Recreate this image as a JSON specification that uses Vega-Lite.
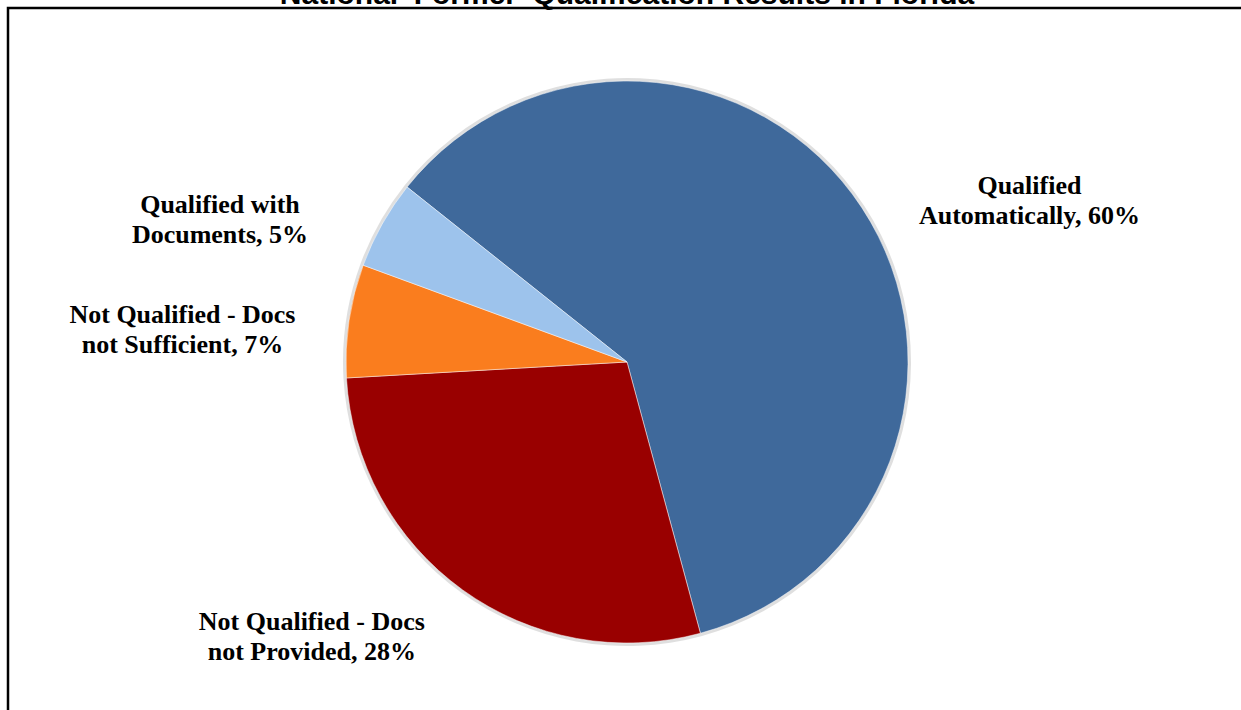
{
  "$schema": "https://vega.github.io/schema/vega-lite/v6.json",
  "width": 1238,
  "height": 708,
  "autosize": "none",
  "padding": {"left": 8, "top": 8, "right": -5, "bottom": -6},
  "background": "white",
  "view": {"stroke": "#000000", "strokeWidth": 2.5, "fill": "white"},
  "title": {
    "text": "National 'Former' Qualification Results in Florida",
    "font": "Liberation Sans",
    "fontSize": 30,
    "fontWeight": "bold",
    "color": "#000000",
    "anchor": "middle",
    "offset": -2
  },
  "config": {"view": {"stroke": "#000000", "strokeWidth": 2.5}},
  "data": {
    "values": [
      {"category": "Qualified Automatically", "value": 60.1, "rank": 1, "label": "Qualified\nAutomatically, 60%"},
      {"category": "Not Qualified - Docs not Provided", "value": 28.3, "rank": 2, "label": "Not Qualified - Docs\nnot Provided, 28%"},
      {"category": "Not Qualified - Docs not Sufficient", "value": 6.5, "rank": 3, "label": "Not Qualified - Docs\nnot Sufficient, 7%"},
      {"category": "Qualified with Documents", "value": 5.1, "rank": 4, "label": "Qualified with\nDocuments, 5%"}
    ]
  },
  "encoding": {
    "theta": {"field": "value", "type": "quantitative", "stack": true, "scale": {"range": [-0.8988, 5.3844]}},
    "order": {"field": "rank", "type": "quantitative"}
  },
  "layer": [
    {
      "mark": {"type": "arc", "outerRadius": 284, "fill": "#7f7f7f", "opacity": 0.25}
    },
    {
      "mark": {"type": "arc", "outerRadius": 281, "stroke": "#ffffff", "strokeWidth": 0.8, "strokeOpacity": 0.6},
      "encoding": {
        "color": {
          "field": "category",
          "type": "nominal",
          "legend": null,
          "scale": {
            "domain": ["Qualified Automatically", "Not Qualified - Docs not Provided", "Not Qualified - Docs not Sufficient", "Qualified with Documents"],
            "range": ["#3F699B", "#990000", "#FA7D1E", "#9DC3EC"]
          }
        }
      }
    },
    {
      "mark": {
        "type": "text",
        "radius": 320,
        "font": "Liberation Serif",
        "fontSize": 26,
        "fontWeight": "bold",
        "lineBreak": "\n",
        "lineHeight": 30,
        "align": "center",
        "baseline": "middle",
        "color": "#000000",
        "dx": {"expr": "sin(scale('theta', (datum.value_start + datum.value_end) / 2)) > 0 ? 135 : -128"}
      },
      "encoding": {
        "text": {"field": "label", "type": "nominal"}
      }
    }
  ]
}
